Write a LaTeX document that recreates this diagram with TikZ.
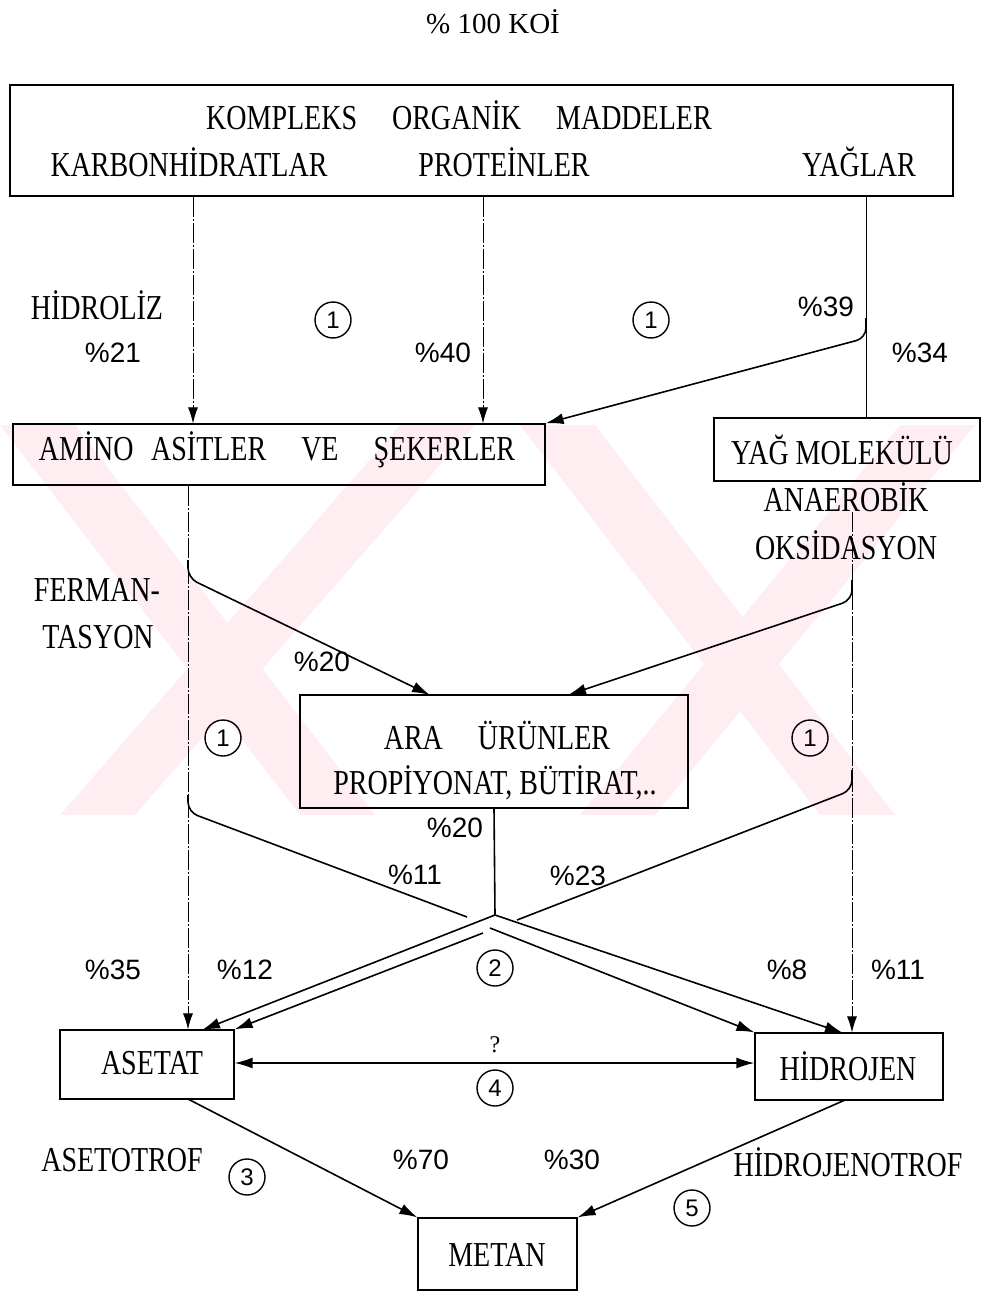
\documentclass[tikz,border=0pt]{standalone}
\usepackage{fontspec}
\setmainfont{Liberation Serif}
\newfontfamily\condfont{Liberation Serif}[FakeStretch=0.8]
\newfontfamily\pctfont{Liberation Sans}
\usetikzlibrary{arrows.meta}
\definecolor{wm}{RGB}{254,237,241}
\begin{document}
\begin{tikzpicture}[x=0.5pt,y=-0.5pt,
  lbl/.style={font=\condfont\fontsize{17.5}{19}\selectfont, inner sep=0},
  pct/.style={font=\pctfont\fontsize{14}{16}\selectfont, inner sep=0},
  circ/.style={circle,draw,line width=0.7pt,minimum size=18pt,inner sep=0,font=\pctfont\fontsize{12}{13}\selectfont},
  box/.style={draw,line width=0.6pt,inner sep=0},
  flow/.style={line width=0.8pt,-{Latex[length=9pt,width=5.5pt]}},
  flowonly/.style={line width=0.8pt},
  thinline/.style={line width=0.45pt, dash pattern=on 10pt off 1pt on 1pt off 1pt},
  tip/.style={-{Latex[length=8pt,width=5pt]}},
]
\useasboundingbox (0,0) rectangle (982,1295);
% watermark
\begin{scope}
\clip (0,425) rectangle (982,815);
\fill[wm] (0,425) -- (75,425) -- (375,815) -- (300,815) -- cycle;
\fill[wm] (400,425) -- (475,425) -- (135,815) -- (60,815) -- cycle;
\fill[wm] (520,425) -- (595,425) -- (895,815) -- (820,815) -- cycle;
\fill[wm] (900,425) -- (975,425) -- (655,815) -- (580,815) -- cycle;
\end{scope}

% title
\node[font=\fontsize{14.5}{16}\selectfont, inner sep=0] (title) at (493,22) {\% 100 KOİ};

% boxes
\node[box, minimum width=471.5pt, minimum height=55.5pt] (top) at (481.5,140.5) {};
\node[lbl] (kom) at (459,115) {KOMPLEKS\quad ORGANİK\quad MADDELER};
\node[lbl] (karb) at (189,162) {KARBONHİDRATLAR};
\node[lbl] (prot) at (504,162) {PROTEİNLER};
\node[lbl] (yag) at (859,162) {YAĞLAR};

\node[box, minimum width=266pt, minimum height=30.5pt] (amino) at (279,454.5) {};
\node[lbl] (aminot) at (277,450) {AMİNO\enspace ASİTLER\quad VE\quad ŞEKERLER};

\node[box, minimum width=133pt, minimum height=31.5pt] (yagm) at (847,449.5) {};
\node[lbl] (yagmt) at (842,450) {YAĞ MOLEKÜLÜ};

\node[box, minimum width=194pt, minimum height=56.5pt] (ara) at (494,751.5) {};
\node[lbl] (arat1) at (497,735) {ARA\quad ÜRÜNLER};
\node[lbl] (arat2) at (495,783) {PROPİYONAT, BÜTİRAT,..};

\node[box, minimum width=87pt, minimum height=34.5pt] (aset) at (147,1064.5) {};
\node[lbl] (asett) at (152,1063) {ASETAT};

\node[box, minimum width=94pt, minimum height=33.5pt] (hid) at (849,1066.5) {};
\node[lbl] (hidt) at (848,1066) {HİDROJEN};

\node[box, minimum width=79.5pt, minimum height=36pt] (met) at (497.5,1254) {};
\node[lbl] (mett) at (497,1255) {METAN};

% labels
\node[lbl] (hidro) at (97,305) {HİDROLİZ};
\node[pct] (p21) at (113,353) {\%21};
\node[circ] (c1a) at (333,320) {1};
\node[pct] (p40) at (443,353) {\%40};
\node[circ] (c1b) at (651,320) {1};
\node[pct] (p39) at (826,307) {\%39};
\node[pct] (p34) at (920,353) {\%34};
\node[lbl] (anae) at (846,497) {ANAEROBİK};
\node[lbl] (oksi) at (846,545) {OKSİDASYON};
\node[lbl] (ferm) at (97,590) {FERMAN-};
\node[lbl, anchor=west] (tasy) at (42,637) {TASYON};
\node[pct] (p20a) at (322,662) {\%20};
\node[circ] (c1c) at (223,738) {1};
\node[circ] (c1d) at (810,738) {1};
\node[pct] (p20b) at (455,828) {\%20};
\node[pct] (p11a) at (415,875) {\%11};
\node[pct] (p23) at (578,876) {\%23};
\node[circ] (c2) at (495,968) {2};
\node[pct] (p35) at (113,970) {\%35};
\node[pct] (p12) at (245,970) {\%12};
\node[pct] (p8) at (787,970) {\%8};
\node[pct] (p11b) at (898,970) {\%11};
\node[font=\fontsize{12}{14}\selectfont, inner sep=0] (q) at (495,1045) {?};
\node[circ] (c4) at (495,1088) {4};
\node[lbl] (asetro) at (122,1160) {ASETOTROF};
\node[circ] (c3) at (247,1177) {3};
\node[pct] (p70) at (421,1160) {\%70};
\node[pct] (p30) at (572,1160) {\%30};
\node[lbl] (hidtro) at (848,1162) {HİDROJENOTROF};
\node[circ] (c5) at (692,1208) {5};

% coordinates
\coordinate (xa) at (193,0);
\coordinate (xb) at (483,0);
\coordinate (xc) at (866,0);
\coordinate (b39) at (866,318);
\coordinate (k39) at (866,338);
\coordinate (xl) at (188,0);
\coordinate (xr) at (852,0);
\coordinate (bl1) at (188,560);
\coordinate (kl1) at (188,578);
\coordinate (aral) at (430,695);
\coordinate (bl2) at (188,795);
\coordinate (kl2) at (188,812);
\coordinate (el2) at (467,917);
\coordinate (rtop) at (852,512);
\coordinate (br1) at (852,580);
\coordinate (kr1) at (852,600);
\coordinate (arar) at (568,695);
\coordinate (br2) at (852,770);
\coordinate (kr2) at (852,790);
\coordinate (er2) at (517,920);
\coordinate (j) at (495,915);
\coordinate (jl) at (483,933);
\coordinate (jr) at (490,928);
\coordinate (asa) at (202,1030);
\coordinate (hia) at (843,1033);
\coordinate (aso) at (188,1099);
\coordinate (hio) at (845,1100);

% connectors
\draw[thinline, tip] (xa |- top.south) -- (xa |- amino.north);
\draw[thinline, tip] (xb |- top.south) -- (xb |- amino.north);
\draw[line width=0.5pt] (xc |- top.south) -- (xc |- yagm.north);
\draw[flow, rounded corners=5pt] (b39) -- (k39) -- (amino.north east);
\draw[thinline, tip] (xl |- amino.south) -- (xl |- aset.north);
\draw[flow, rounded corners=5pt] (bl1) -- (kl1) -- (aral);
\draw[flowonly, rounded corners=5pt] (bl2) -- (kl2) -- (el2);
\draw[thinline, tip] (rtop) -- (xr |- hid.north);
\draw[flow, rounded corners=5pt] (br1) -- (kr1) -- (arar);
\draw[flowonly, rounded corners=5pt] (br2) -- (kr2) -- (er2);
\draw[flowonly] (ara.south) -- (j);
\draw[flow] (j) -- (asa);
\draw[flow] (jl) -- (aset.north east);
\draw[flow] (j) -- (hia);
\draw[flow] (jr) -- (hid.north west);
\draw[line width=0.8pt, {Latex[length=9pt,width=5.5pt]}-{Latex[length=9pt,width=5.5pt]}] (aset.east |- 0,1063) -- (hid.west |- 0,1063);
\draw[flow] (aso) -- (met.north west);
\draw[flow] (hio) -- (met.north east);
\end{tikzpicture}
\end{document}
